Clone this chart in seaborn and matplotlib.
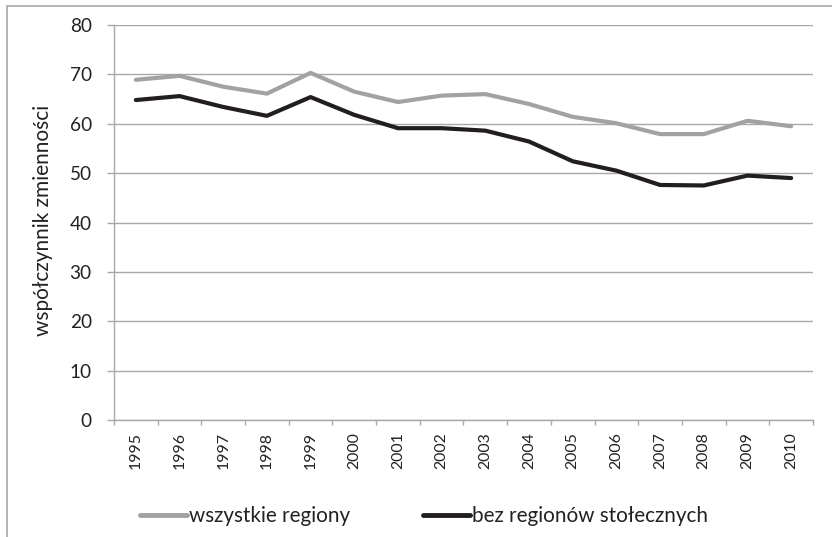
import matplotlib
matplotlib.use("Agg")
import matplotlib.pyplot as plt
import seaborn as sns
import pandas as pd
from matplotlib.patches import Rectangle

years = [str(y) for y in range(1995, 2011)]
wszystkie = [68.9, 69.7, 67.5, 66.1, 70.3, 66.5, 64.4, 65.7, 66.0, 64.0, 61.4, 60.1, 57.9, 57.9, 60.6, 59.5]
bez_stolecznych = [64.8, 65.6, 63.4, 61.6, 65.4, 61.8, 59.1, 59.1, 58.6, 56.4, 52.4, 50.5, 47.6, 47.5, 49.5, 49.0]
series_names = ["wszystkie regiony", "bez regionów stołecznych"]
y_ticks = [0, 10, 20, 30, 40, 50, 60, 70, 80]
y_label = "współczynnik zmienności"

df = pd.DataFrame({
    "rok": years * 2,
    "wartosc": wszystkie + bez_stolecznych,
    "seria": [series_names[0]] * len(years) + [series_names[1]] * len(years),
})

sns.set_theme(style="white")
FAM = ["Lato", "DejaVu Sans"]
plt.rcParams["font.family"] = FAM

W, H = 832, 537
fig = plt.figure(figsize=(W / 100, H / 100), dpi=100)
renderer = fig.canvas.get_renderer()


def fit_size(text, target_px, ref=20.0):
    t = fig.text(0, 0, text, fontsize=ref, family=FAM)
    w = t.get_window_extent(renderer).width
    t.remove()
    return ref * target_px / w


fs_ytick = fit_size("80", 22)
fs_xtick = fit_size("1995", 37)
fs_leg = fit_size(series_names[0], 161)
fs_ylab = fit_size(y_label, 232)

ax = fig.add_axes([114 / W, 1 - 420 / H, 699 / W, 395 / H])

grey = "#a2a2a4"
black = "#221e1f"
sns.lineplot(data=df, x="rok", y="wartosc", hue="seria",
             palette={series_names[0]: grey, series_names[1]: black},
             linewidth=3.0, ax=ax, legend=True, sort=False)

ax.set_ylim(0, 80)
ax.set_xlim(-0.5, len(years) - 0.5)
ax.set_yticks(y_ticks)
ax.yaxis.grid(True, color="#a8a8a8", linewidth=1.0)
ax.xaxis.grid(False)
ax.set_axisbelow(True)
for s in ["top", "right"]:
    ax.spines[s].set_visible(False)
for s in ["left", "bottom"]:
    ax.spines[s].set_color("#a8a8a8")
    ax.spines[s].set_linewidth(1.0)

ax.set_xticks(range(len(years)))
ax.set_xticklabels(years, rotation=90, fontsize=fs_xtick, color="#222222")
ax.tick_params(axis="x", length=0, pad=8.5)
ax.set_xticks([i - 0.5 for i in range(len(years) + 1)], minor=True)
ax.tick_params(axis="x", which="minor", length=3.5, color="#a8a8a8", width=1, direction="out", bottom=True)
ax.tick_params(axis="y", length=5, color="#a8a8a8", width=1, direction="out", left=True,
               labelsize=fs_ytick, labelcolor="#222222", pad=11)

ax.set_xlabel("")
ax.set_ylabel(y_label, fontsize=fs_ylab, color="#222222")
ax.yaxis.label.set_va("center")
ax.yaxis.set_label_coords((43 - 114) / 699, 0.5 + (221.5 - 219) / 395)

fs_px = fs_leg * 100 / 72
leg = ax.legend(loc="center left", bbox_to_anchor=(140 / W, 1 - 516 / H),
                bbox_transform=fig.transFigure, ncol=2, frameon=False,
                fontsize=fs_leg, handlelength=47 / fs_px, handletextpad=2 / fs_px,
                columnspacing=73 / fs_px, borderpad=0, borderaxespad=0)
for t in leg.get_texts():
    t.set_color("#222222")
for h in leg.get_lines():
    h.set_linewidth(3.5)
    h.set_solid_capstyle("round")

fig.patches.append(Rectangle((6.5 / W, -0.1), 2.0, 1.0 - 5.5 / H + 0.1, transform=fig.transFigure,
                             fill=False, edgecolor="#a8a8a8", linewidth=1.2, zorder=0))

fig.savefig("out.png", dpi=100)
